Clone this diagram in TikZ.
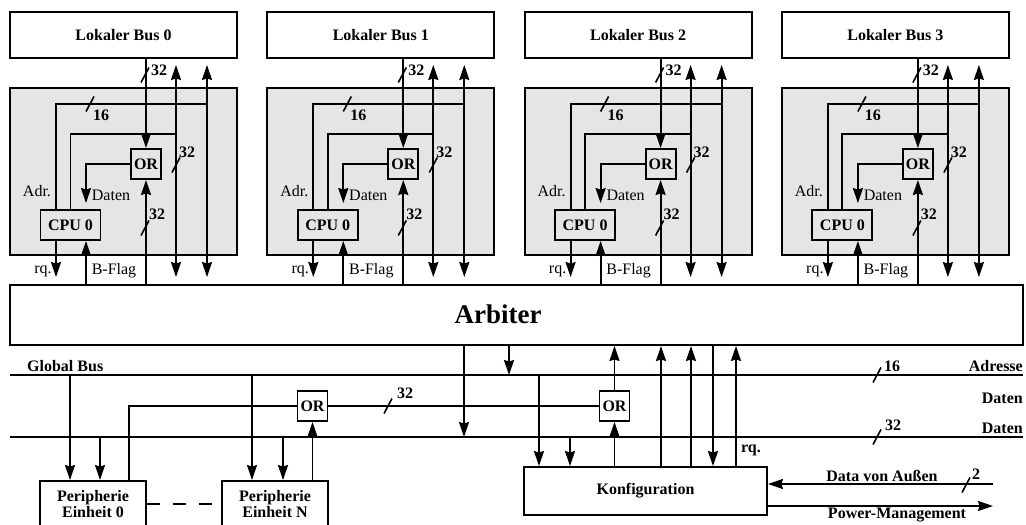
\documentclass[tikz,border=0pt]{standalone}
\usepackage{fontspec}
\setmainfont{Liberation Serif}
\usetikzlibrary{arrows.meta,calc}

\tikzset{
  leitung/.style={line width=1.9pt},
  pfeil/.style={leitung, -{Stealth[length=15pt,width=10pt,inset=1.5pt]}},
  beide/.style={leitung, {Stealth[length=15pt,width=10pt,inset=1.5pt]}-{Stealth[length=15pt,width=10pt,inset=1.5pt]}},
  kasten/.style={draw, line width=1.9pt, inner sep=0pt, align=center,
    font=\bfseries\fontsize{16}{16}\selectfont},
  modul/.style={draw, line width=1.9pt, fill=gray!20, inner sep=0pt},
  lbl/.style={inner sep=0pt, font=\fontsize{16}{18}\selectfont},
  zahl/.style={inner sep=0pt, font=\bfseries\fontsize{16}{18}\selectfont},
  strich/.pic={\draw[line width=1.6pt] (-4,7.5) -- (4,-7.5);}
}

\begin{document}
\begin{tikzpicture}[x=1pt,y=-1pt]
\useasboundingbox (0,0) rectangle (1026,525);

% Arbiter
\node[kasten, minimum width=1013, minimum height=60] (arb) at (516.5,315) {};
\node[inner sep=0pt, font=\bfseries\fontsize{27}{30}\selectfont] (arbt) at (498,314) {Arbiter};

% Module mit lokalem Bus
\foreach \i in {0,...,3}{
\begin{scope}[xshift=257.3*\i]
  \node[kasten, minimum width=227, minimum height=46] (lb\i) at (123.5,35) {Lokaler Bus \i};
  \node[modul, minimum width=227, minimum height=167] (m\i) at (123.5,171.5) {};
  \node[kasten, minimum size=30] (or\i) at (146,164) {OR};
  \node[kasten, minimum width=60, minimum height=30] (cpu\i) at (70.5,225) {CPU 0};

  \coordinate (j\i) at (207,104);
  \coordinate (k\i) at (176,134);
  \coordinate (rq\i) at ($(cpu\i.south)+(-14.5,0)$);
  \coordinate (bf\i) at ($(cpu\i.south)+(15.5,0)$);

  % Busleitungen
  \draw[beide, shorten <=6pt, shorten >=7pt] (lb\i.south -| j\i) -- (arb.north -| j\i);
  \draw[beide, shorten <=6pt, shorten >=7pt] (lb\i.south -| k\i) -- (arb.north -| k\i);
  \draw[leitung] (j\i) -| ($(cpu\i.north)+(-14.5,0)$);
  \draw[leitung] (k\i) -| (cpu\i.north);
  \draw[pfeil] (lb\i.south -| or\i) -- (or\i.north);
  \draw[pfeil] (arb.north -| or\i) -- (or\i.south);
  \draw[pfeil] (or\i.west) -| ($(cpu\i.north)+(15.5,-6)$);
  \draw[pfeil, shorten >=7pt] (rq\i) -- (rq\i |- arb.north);
  \draw[pfeil] (bf\i |- arb.north) -- (bf\i);

  % Beschriftung
  \pic at (145,75) {strich};
  \node[zahl] (na\i) at (159,70) {32};
  \pic at (90,104) {strich};
  \node[zahl] (nb\i) at (101,115) {16};
  \pic at (176,165) {strich};
  \node[zahl] (nc\i) at (187,152) {32};
  \pic at (145,228) {strich};
  \node[zahl] (nd\i) at (157,214) {32};
  \node[lbl] (adr\i) at (37,191) {Adr.};
  \node[lbl] (dat\i) at (111,195) {Daten};
  \node[lbl] (rql\i) at (43,271) {rq.};
  \node[lbl] (bfl\i) at (114,271) {B-Flag};
\end{scope}
}

% Globaler Bus
\coordinate (adrL) at (10,375);
\coordinate (adrR) at (1023,375);
\coordinate (datL) at (10,437);
\coordinate (datR) at (1023,437);
\draw[leitung] (adrL) -- (adrR);
\draw[leitung] (datL) -- (datR);
\node[zahl, anchor=west] (gb) at (27,366) {Global Bus};
\node[zahl, anchor=east] (adr) at (1023,366) {Adresse};
\node[zahl, anchor=east] (dat1) at (1023,398) {Daten};
\node[zahl, anchor=east] (dat2) at (1023,428) {Daten};
\pic at (877,375) {strich};
\node[zahl] (n16) at (892,366) {16};
\pic at (877,437) {strich};
\node[zahl] (n32) at (893,425) {32};

% Peripherie und Konfiguration
\node[kasten, minimum width=106, minimum height=46] (p0) at (93,504) {Peripherie\\Einheit 0};
\node[kasten, minimum width=106, minimum height=46] (pN) at (275,504) {Peripherie\\Einheit N};
\node[kasten, minimum size=30] (ora) at (312.5,406) {OR};
\node[kasten, minimum size=30] (orb) at (614.5,406) {OR};
\node[kasten, minimum width=243, minimum height=48] (kf) at (645.5,491) {Konfiguration};

\draw[leitung, dash pattern=on 13pt off 13pt] (p0.east) -- (pN.west);
\draw[leitung] ($(p0.north west)+(90,0)$) |- (ora.west);
\draw[leitung] (ora.east) -- (orb.west);
\pic at (388,406) {strich};
\node[zahl] (n32b) at (405,393) {32};
\draw[pfeil] (pN.north -| ora) -- (ora.south);
\draw[pfeil] (kf.north -| orb) -- (orb.south);
\draw[pfeil] (orb.north) -- (orb |- arb.south);

\foreach \x/\z in {70/p0, 252/pN, 539/kf}{
  \coordinate (t) at (\x,375);
  \draw[pfeil] (t) -- (t |- \z.north);
}
\foreach \x/\z in {100/p0, 283/pN, 570/kf}{
  \coordinate (t) at (\x,437);
  \draw[pfeil] (t) -- (t |- \z.north);
}

% Arbiter zum Bus
\coordinate (s1) at (464,437);
\coordinate (s2) at (509,375);
\draw[pfeil] (s1 |- arb.south) -- (s1);
\draw[pfeil] (s2 |- arb.south) -- (s2);
\foreach \x in {661,691,736}{
  \coordinate (t) at (\x,0);
  \draw[pfeil] (kf.north -| t) -- (arb.south -| t);
}
\coordinate (s3) at (713,0);
\draw[pfeil] (arb.south -| s3) -- (kf.north -| s3);
\node[zahl] (rqk) at (751,450) {rq.};

% Extern
\coordinate (ext1) at (993,484);
\coordinate (ext2) at (993,506);
\draw[pfeil] (ext1) -- (ext1 -| kf.east);
\draw[pfeil] (ext2 -| kf.east) -- (ext2);
\node[zahl] (dva) at (882,476) {Data von Außen};
\node[zahl] (pm) at (897,515) {Power-Management};
\pic at (966,485) {strich};
\node[zahl] (n2) at (976,474) {2};

\end{tikzpicture}
\end{document}
